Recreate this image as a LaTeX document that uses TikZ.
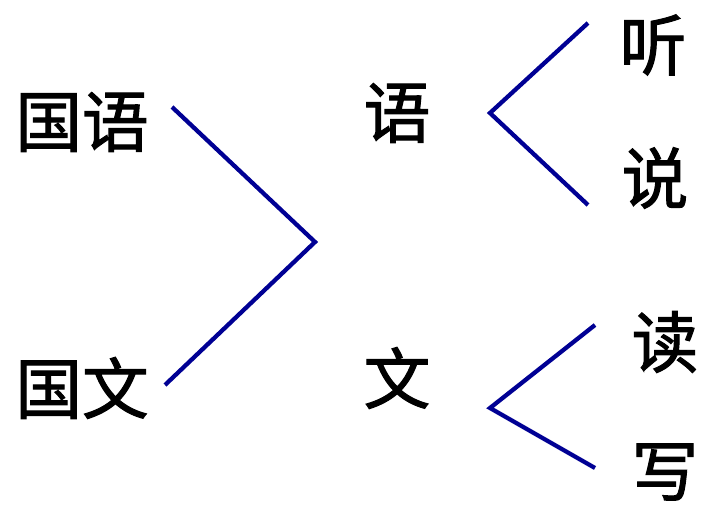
\documentclass[tikz,border=0pt]{standalone}
\usepackage{fontspec}
\newfontfamily\cjk[FakeBold=1.5]{Noto Sans CJK SC}
\usepackage{tikz}
\usetikzlibrary{positioning}
\definecolor{navyline}{HTML}{000094}
\tikzset{zi/.style={font=\cjk\fontsize{50}{50}\selectfont,inner sep=0pt,text=black},
branch/.style={draw=navyline,line width=3.2pt}}
\begin{document}
\begin{tikzpicture}[x=0.75pt,y=-0.75pt]
\useasboundingbox (0,0) rectangle (704,505);
\node[zi] (guoyu) at (82,122) {国语};
\node[zi] (guowen) at (82,388) {国文};
\node[zi] (yu) at (397,113) {语};
\node[zi] (wen) at (397,378) {文};
\node[zi] (ting) at (653,45) {听};
\node[zi] (shuo) at (655,178) {说};
\node[zi] (du) at (665,342) {读};
\node[zi] (xie) at (665,472) {写};
% bracket corners and ends
\coordinate (c1) at (315,242);
\coordinate (a1) at (172,107);
\coordinate (b1) at (165,385);
\coordinate (c2) at (490,113);
\coordinate (a2) at (588,23);
\coordinate (b2) at (588,205);
\coordinate (c3) at (490,408);
\coordinate (a3) at (595,325);
\coordinate (b3) at (595,468);
\draw[branch] (a1)--(c1)--(b1);
\draw[branch] (a2)--(c2)--(b2);
\draw[branch] (a3)--(c3)--(b3);
\end{tikzpicture}
\end{document}
